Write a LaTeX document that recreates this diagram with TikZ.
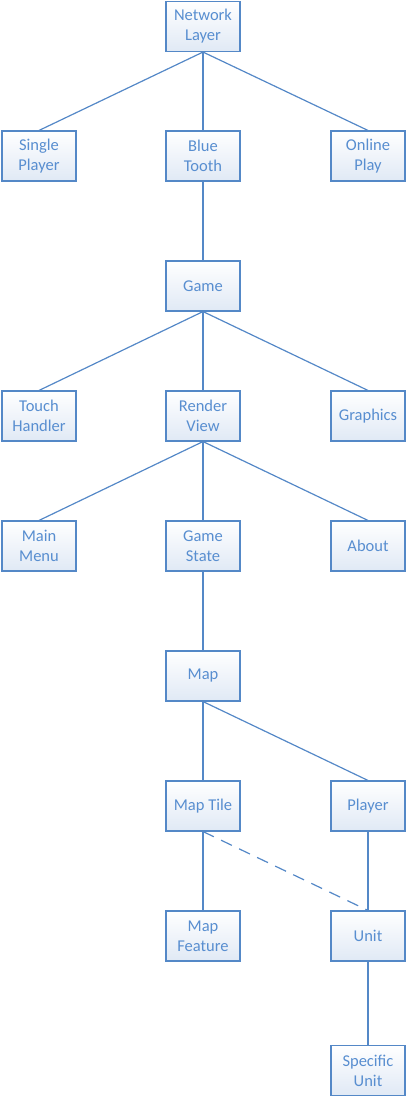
\documentclass[tikz,border=0pt]{standalone}
\usepackage{fontspec}
\setmainfont{Carlito}
\definecolor{bord}{RGB}{84,136,199}
\definecolor{txt}{RGB}{88,142,208}
\definecolor{fillb}{RGB}{224,233,245}
\begin{document}
\begin{tikzpicture}[x=1pt,y=-1pt,
  box/.style={draw=bord,line width=1.1pt,top color=white,bottom color=fillb,
    minimum width=74pt,minimum height=50pt,inner sep=0pt,text=txt,align=center,
    font=\fontsize{16.5}{20}\selectfont},
  link/.style={draw=bord,line width=1.2pt},
  dlink/.style={link,dash pattern=on 12pt off 8pt}]
\useasboundingbox (0,0) rectangle (406,1096);
\node[box] (net) at (203,26.5) {Network\\Layer};
\node[box] (single) at (39,156) {Single\\Player};
\node[box] (blue) at (203,156) {Blue\\Tooth};
\node[box] (online) at (368,156) {Online\\Play};
\node[box] (game) at (203,286) {Game};
\node[box] (touch) at (39,416) {Touch\\Handler};
\node[box] (render) at (203,416) {Render\\View};
\node[box] (graphics) at (368,416) {Graphics};
\node[box] (menu) at (39,546) {Main\\Menu};
\node[box] (state) at (203,546) {Game\\State};
\node[box] (about) at (368,546) {About};
\node[box] (map) at (203,676) {Map};
\node[box] (tile) at (203,806) {Map Tile};
\node[box] (player) at (368,806) {Player};
\node[box] (feature) at (203,936) {Map\\Feature};
\node[box] (unit) at (368,936) {Unit};
\node[box] (spec) at (368,1070.5) {Specific\\Unit};
\foreach \a/\b in {net/single,net/blue,net/online,blue/game,game/touch,game/render,game/graphics,render/menu,render/state,render/about,state/map,map/tile,map/player,tile/feature,player/unit,unit/spec}
  \draw[link] (\a.south) -- (\b.north);
\draw[dlink] (tile.south) -- (unit.north);
\end{tikzpicture}
\end{document}
